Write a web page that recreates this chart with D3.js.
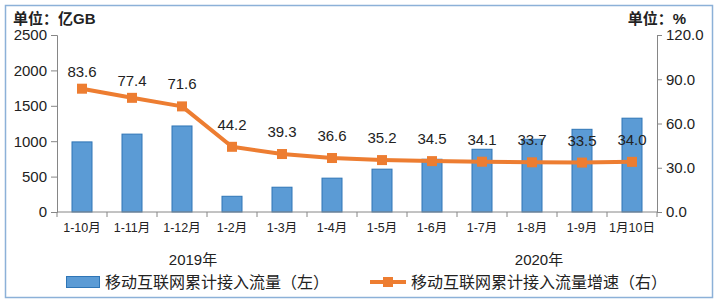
<!DOCTYPE html>
<html>
<head>
<meta charset="utf-8">
<script src="https://cdn.jsdelivr.net/npm/d3@7"></script>
<style>
  body { margin: 0; background: #fff; }
  text { font-family: "Liberation Sans", "Noto Sans CJK SC", sans-serif; fill: #222; }
</style>
</head>
<body>
<div id="chart"></div>
<script>
const categories = ['1-10月', '1-11月', '1-12月', '1-2月', '1-3月', '1-4月', '1-5月', '1-6月', '1-7月', '1-8月', '1-9月', '1月10日'];
const traffic = [990, 1100, 1215, 222, 350, 478, 605, 745, 886, 1027, 1168, 1325];
const growth = [83.6, 77.4, 71.6, 44.2, 39.3, 36.6, 35.2, 34.5, 34.1, 33.7, 33.5, 34.0];
const leftTicks = [0, 500, 1000, 1500, 2000, 2500];
const rightTicks = [0, 30, 60, 90, 120];
const years = ['2019年', '2020年'];

const W = 719, H = 303;
const margin = { top: 35, right: 62, bottom: 91, left: 57 };
const yearPos = [2.72, 9.64]; // centre of each year label, in category steps
const svg = d3.select('#chart').append('svg').attr('width', W).attr('height', H);

// outer border
svg.append('rect')
  .attr('x', 5.5).attr('y', 5.5).attr('width', 707).attr('height', 292)
  .attr('fill', 'none').attr('stroke', '#8cb1d8').attr('stroke-width', 1.5);

const x = d3.scaleBand().domain(categories).range([margin.left, W - margin.right]);
const yL = d3.scaleLinear().domain([0, 2500]).range([H - margin.bottom, margin.top]);
const yR = d3.scaleLinear().domain([0, 120]).range([H - margin.bottom, margin.top]);
const axisColor = '#868686';

// left axis
const gl = svg.append('g').attr('transform', `translate(${margin.left},0)`)
  .call(d3.axisLeft(yL).tickValues(leftTicks).tickFormat(d3.format('d')).tickSize(6).tickPadding(4));
// right axis
const gr = svg.append('g').attr('transform', `translate(${W - margin.right},0)`)
  .call(d3.axisRight(yR).tickValues(rightTicks).tickFormat(d3.format('.1f')).tickSize(5).tickPadding(4));
[gl, gr].forEach((g) => {
  g.select('.domain').attr('stroke', axisColor);
  g.selectAll('.tick line').attr('stroke', axisColor);
  g.selectAll('.tick text').attr('font-size', 15).attr('fill', '#222')
    .attr('font-family', '"Liberation Sans", sans-serif');
});

// bars
svg.append('g').selectAll('rect').data(traffic).join('rect')
  .attr('x', (d, i) => x(categories[i]) + x.bandwidth() * 0.3)
  .attr('width', x.bandwidth() * 0.4)
  .attr('y', (d) => yL(d))
  .attr('height', (d) => yL(0) - yL(d))
  .attr('fill', '#5b9bd5')
  .attr('stroke', '#2e75b6')
  .attr('stroke-width', 1);

// x axis with ticks between categories
const base = yL(0);
svg.append('line').attr('x1', margin.left).attr('x2', W - margin.right)
  .attr('y1', base).attr('y2', base).attr('stroke', axisColor);
svg.append('g').selectAll('line').data(d3.range(categories.length + 1)).join('line')
  .attr('x1', (i) => margin.left + i * x.step()).attr('x2', (i) => margin.left + i * x.step())
  .attr('y1', base).attr('y2', base + 5).attr('stroke', axisColor);
svg.append('g').selectAll('text').data(categories).join('text')
  .attr('x', (d) => x(d) + x.bandwidth() / 2)
  .attr('y', base + 20)
  .attr('text-anchor', 'middle')
  .attr('font-size', 12.5)
  .text((d) => d);

// year labels
svg.append('g').selectAll('text').data(years).join('text')
  .attr('x', (d, i) => margin.left + yearPos[i] * x.step())
  .attr('y', base + 53)
  .attr('text-anchor', 'middle')
  .attr('font-size', 15)
  .text((d) => d);

// growth line
const cx = (i) => x(categories[i]) + x.bandwidth() / 2;
const line = d3.line().x((d, i) => cx(i)).y((d) => yR(d));
svg.append('path').datum(growth)
  .attr('d', line)
  .attr('fill', 'none')
  .attr('stroke', '#ed7d31')
  .attr('stroke-width', 4)
  .attr('stroke-linejoin', 'round');
svg.append('g').selectAll('rect').data(growth).join('rect')
  .attr('x', (d, i) => cx(i) - 5).attr('y', (d) => yR(d) - 5)
  .attr('width', 10).attr('height', 10)
  .attr('fill', '#ed7d31');
svg.append('g').selectAll('text').data(growth).join('text')
  .attr('x', (d, i) => cx(i))
  .attr('y', (d, i) => yR(d) - (i < 2 ? 12 : 17))
  .attr('text-anchor', 'middle')
  .attr('font-size', 15)
  .text((d) => d.toFixed(1));

// unit titles
svg.append('text').attr('x', 13).attr('y', 24).attr('font-size', 15).attr('font-weight', 'bold')
  .attr('font-family', '"Noto Sans CJK SC", sans-serif').text('单位：亿GB');
svg.append('text').attr('x', 686).attr('y', 24).attr('font-size', 15).attr('font-weight', 'bold')
  .attr('text-anchor', 'end')
  .attr('font-family', '"Noto Sans CJK SC", sans-serif').text('单位：%');

// legend
const lg = svg.append('g');
lg.append('rect').attr('x', 66.5).attr('y', 276.5).attr('width', 33).attr('height', 11)
  .attr('fill', '#5b9bd5').attr('stroke', '#2e75b6');
lg.append('text').attr('x', 105).attr('y', 288).attr('font-size', 16)
  .attr('font-family', '"Noto Sans CJK SC", sans-serif').text('移动互联网累计接入流量（左）');
lg.append('line').attr('x1', 370).attr('x2', 406).attr('y1', 282).attr('y2', 282)
  .attr('stroke', '#ed7d31').attr('stroke-width', 4);
lg.append('rect').attr('x', 383).attr('y', 277).attr('width', 10).attr('height', 10).attr('fill', '#ed7d31');
lg.append('text').attr('x', 411).attr('y', 288).attr('font-size', 16)
  .attr('font-family', '"Noto Sans CJK SC", sans-serif').text('移动互联网累计接入流量增速（右）');
</script>
</body>
</html>
